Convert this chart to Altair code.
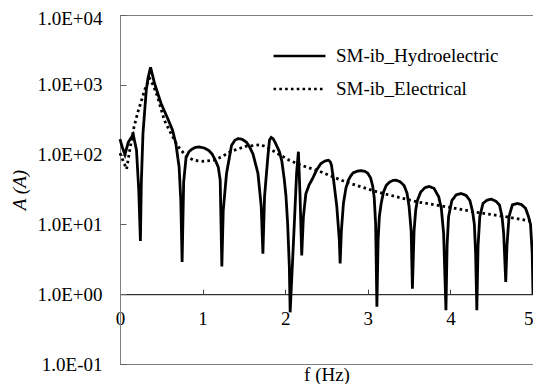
import altair as alt
import pandas as pd

series_names = ["SM-ib_Hydroelectric", "SM-ib_Electrical"]

hydro_f = [0.000, 0.030, 0.060, 0.100, 0.160, 0.200, 0.227, 0.247, 0.258, 0.278, 0.318, 0.338, 0.370,
           0.418, 0.497, 0.577, 0.636, 0.676, 0.716, 0.736, 0.752,
           0.771, 0.800, 0.835, 0.872, 0.915, 0.960, 1.020, 1.074, 1.115, 1.154, 1.190, 1.213, 1.233,
           1.250, 1.290, 1.350, 1.390, 1.430, 1.480, 1.530, 1.570, 1.610, 1.670, 1.710, 1.730,
           1.750, 1.790, 1.810, 1.830, 1.855, 1.880, 1.930, 1.960, 1.990, 2.010, 2.030, 2.050, 2.060,
           2.110, 2.138, 2.160, 2.180, 2.200,
           2.220, 2.250, 2.290, 2.330, 2.380, 2.430, 2.480, 2.525, 2.545, 2.560, 2.586, 2.625, 2.655, 2.665,
           2.680, 2.705, 2.735, 2.765, 2.795, 2.825, 2.875, 2.924, 2.965, 3.000, 3.035, 3.060, 3.078, 3.095, 3.110,
           3.125, 3.140, 3.162, 3.190, 3.222, 3.260, 3.300, 3.340, 3.390, 3.440, 3.475, 3.500, 3.525, 3.540,
           3.560, 3.580, 3.600, 3.640, 3.690, 3.740, 3.800, 3.858, 3.890, 3.918, 3.946,
           3.960, 3.978, 4.018, 4.070, 4.130, 4.190, 4.236, 4.270, 4.290, 4.305, 4.320,
           4.335, 4.356, 4.395, 4.445, 4.495, 4.550, 4.594, 4.625, 4.645, 4.670,
           4.685, 4.710, 4.750, 4.810, 4.860, 4.910, 4.945, 4.970, 4.990, 5.000]
hydro_A = [166, 125, 100, 150, 195, 115, 31, 5.8, 39, 200, 840, 1230, 1780,
           1050, 540, 330, 224, 144, 66, 22, 2.9,
           41, 91, 110, 120, 127, 129, 124, 115, 102, 83, 66, 43, 2.5,
           16, 54, 135, 160, 170, 165, 151, 128, 102, 54, 18, 3.8,
           25, 93, 162, 176, 168, 148, 110, 80, 43, 25, 10, 2.5, 0.55,
           10, 54, 110, 25, 3.6,
           12.6, 27.5, 37, 45, 60, 74, 81, 83, 79, 71, 43, 18, 6, 2.75,
           8, 20, 33, 43, 50, 55, 58, 59, 57.5, 54, 46, 35, 24, 10, 0.66,
           6, 13, 20, 29, 36, 40, 42.5, 43, 41, 36, 28, 18, 8, 1.2,
           8, 16, 22, 29, 33.5, 35, 33, 25, 17, 7.4, 0.59,
           5, 13, 22, 26.5, 27.7, 26, 22, 15, 10, 4, 0.59,
           5, 13, 20, 22.3, 23, 21.5, 19, 13, 7.4, 1.5,
           5, 13, 19, 20, 19.3, 17, 13, 10, 4, 1.0]

elec_f = [0.00, 0.04, 0.08, 0.12, 0.17, 0.22, 0.27, 0.30, 0.357, 0.40, 0.45, 0.537, 0.60, 0.692,
          0.80, 0.895, 1.00, 1.134, 1.23, 1.35, 1.53, 1.70, 1.77, 1.90, 2.05, 2.20, 2.41, 2.72,
          3.12, 3.60, 4.00, 4.30, 4.65, 5.00]
elec_A = [105, 80, 62, 120, 250, 420, 650, 850, 1240, 1000, 700, 310, 220, 136,
          95, 83, 80, 83, 93, 112, 132, 138, 129, 105, 83, 70, 58, 41,
          29, 21, 17.5, 15, 13, 11]

x_ticks = [0, 1, 2, 3, 4, 5]
x_inner_ticks = [1, 2, 3, 4]
y_ticks = [0.1, 1, 10, 100, 1000, 10000]

df = pd.concat([
    pd.DataFrame({"f": hydro_f, "A": hydro_A, "series": series_names[0], "order": range(len(hydro_f))}),
    pd.DataFrame({"f": elec_f, "A": elec_A, "series": series_names[1], "order": range(len(elec_f))}),
])

W, H = 413, 349
FONT = "Liberation Serif, 'Times New Roman', 'DejaVu Serif', serif"
y_at_one = H * 4 / 5  # pixel position of A = 1 from top

xscale = alt.Scale(domain=[0, 5], nice=False, zero=False)
yscale = alt.Scale(type="log", domain=[0.1, 10000], nice=False)

main = alt.Chart(df).mark_line(color="black", strokeWidth=2.8).encode(
    x=alt.X("f:Q", scale=xscale, axis=alt.Axis(
        orient="bottom", offset=y_at_one - H, values=x_ticks, format="d", labelFlush=False,
        labelAlign={"condition": {"test": "datum.value >= 5", "value": "right"}, "value": "center"},
        ticks=False, tickSize=0, domain=True, domainColor="black", domainWidth=1,
        labelFont=FONT, labelFontSize=19, labelColor="black", labelPadding=15,
        title=None, grid=False)),
    y=alt.Y("A:Q", scale=yscale, axis=alt.Axis(
        orient="left", values=y_ticks,
        labelExpr="'1.0E' + (datum.value >= 1 ? '+' : '-') + '0' + abs(round(log(datum.value)/LN10))",
        labelOffset={"condition": {"test": "datum.value >= 10000", "value": 3}, "value": 0},
        ticks=False, tickSize=0, domainColor="#808080", domainWidth=1,
        labelFont=FONT, labelFontSize=19, labelColor="black", labelPadding=18,
        title="A (A)", titleFont=FONT, titleFontSize=19, titleFontWeight="normal",
        titleFontStyle="italic", titleColor="black", titlePadding=7, grid=False)),
    strokeDash=alt.StrokeDash("series:N", scale=alt.Scale(domain=series_names, range=[[1, 0], [2.6, 3.2]]),
                              legend=alt.Legend(title=None, orient="none", legendX=152, legendY=31,
                                                symbolType="stroke", symbolSize=2700, symbolStrokeWidth=2.6,
                                                symbolStrokeColor="black", labelFont=FONT, labelFontSize=19,
                                                labelColor="black", labelOffset=9, labelLimit=400,
                                                clipHeight=20, rowPadding=13, padding=0)),
    order="order:Q",
)

ticks_layer = alt.Chart(df).mark_line(opacity=0).encode(
    x=alt.X("f:Q", scale=xscale, axis=alt.Axis(
        orient="top", offset=-y_at_one, values=x_inner_ticks, labels=False, domain=False,
        ticks=True, tickSize=5, tickColor="#404040", title=None, grid=False)),
    y=alt.Y("A:Q", scale=yscale, axis=alt.Axis(
        orient="right", offset=-W, values=y_ticks, labels=False, domain=False,
        ticks=True, tickSize=6, tickColor="#606060", title=None, grid=False)),
    detail="series:N",
)

title_layer = alt.Chart(df).mark_line(opacity=0).encode(
    x=alt.X("f:Q", scale=xscale, axis=alt.Axis(
        orient="bottom", labels=False, ticks=False, domain=False, grid=False,
        title="f (Hz)", titleFont=FONT, titleFontSize=19, titleFontWeight="normal",
        titleColor="black", titlePadding=1)),
    y=alt.Y("A:Q", scale=yscale, axis=None),
    detail="series:N",
)

chart = alt.layer(main, ticks_layer, title_layer).resolve_axis(
    x="independent", y="independent"
).properties(
    width=W, height=H,
    autosize=alt.AutoSizeParams(type="none"),
    padding={"left": 112, "top": 7, "right": 0, "bottom": 20},
).configure_view(stroke="#808080", strokeWidth=1)

chart.save("out.html", embed_options={"renderer": "svg", "actions": False})
